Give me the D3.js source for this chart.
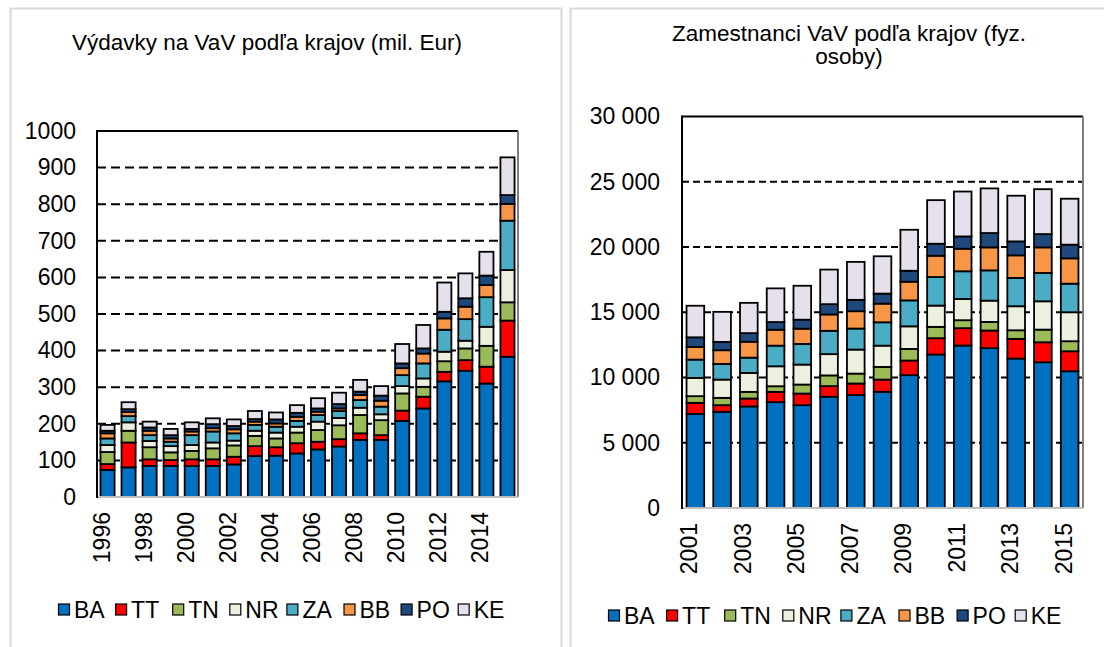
<!DOCTYPE html>
<meta charset="utf-8">
<style>

body {
  margin: 0;
  background: #fff;
}

text {
  font-family: "Liberation Sans", Arial, sans-serif;
  fill: #000;
}

</style>
<body>
<script src="https://cdn.jsdelivr.net/npm/d3@7"></script>
<script>

var regions = ["BA", "TT", "TN", "NR", "ZA", "BB", "PO", "KE"],
    regionColors = ["#0070C0", "#FF0000", "#9BBB59", "#EBF1DE", "#4BACC6", "#F79646", "#1F497D", "#E6E0EC"];

// výdavky (mil. Eur)
var yearsExp = [1996, 1997, 1998, 1999, 2000, 2001, 2002, 2003, 2004, 2005,
                2006, 2007, 2008, 2009, 2010, 2011, 2012, 2013, 2014, 2015];
var expTickYears = [1996, 1998, 2000, 2002, 2004, 2006, 2008, 2010, 2012, 2014];
var expBA = [74, 81, 85, 85, 85, 85, 89, 112, 113, 119, 130, 138, 156, 156, 208, 242, 316, 345, 310, 383],
    expTT = [16, 68, 18, 16, 18, 18, 21, 27, 23, 28, 21, 20, 18, 13, 28, 32, 26, 29, 46, 99],
    expTN = [33, 32, 33, 21, 23, 30, 31, 28, 24, 29, 32, 38, 50, 41, 47, 27, 29, 32, 57, 50],
    expNR = [19, 23, 17, 17, 16, 16, 13, 14, 16, 16, 23, 20, 20, 16, 20, 23, 26, 21, 52, 88],
    expZA = [18, 17, 16, 12, 27, 30, 20, 16, 16, 16, 18, 19, 21, 21, 30, 41, 60, 59, 81, 135],
    expBB = [14, 11, 12, 9, 10, 9, 11, 9, 9, 11, 9, 7, 14, 16, 19, 27, 31, 34, 33, 46],
    expPO = [7, 8, 9, 9, 7, 11, 9, 7, 11, 11, 9, 12, 9, 14, 13, 14, 18, 23, 26, 24],
    expKE = [16, 19, 16, 17, 18, 16, 18, 22, 19, 21, 28, 31, 32, 26, 53, 64, 80, 68, 65, 103];
var expTicks = [0, 100, 200, 300, 400, 500, 600, 700, 800, 900, 1000];

// zamestnanci (fyz. osoby)
var yearsEmp = [2001, 2002, 2003, 2004, 2005, 2006, 2007, 2008, 2009, 2010, 2011, 2012, 2013, 2014, 2015];
var empTickYears = [2001, 2003, 2005, 2007, 2009, 2011, 2013, 2015];
var empBA = [7220, 7370, 7780, 8110, 7880, 8520, 8650, 8900, 10180, 11760, 12450, 12250, 11450, 11170, 10480],
    empTT = [840, 510, 610, 790, 890, 820, 890, 940, 1120, 1250, 1330, 1350, 1510, 1530, 1530],
    empTN = [510, 560, 510, 430, 690, 820, 760, 970, 890, 870, 610, 660, 660, 970, 770],
    empNR = [1400, 1400, 1450, 1530, 1530, 1630, 1840, 1630, 1730, 1630, 1630, 1630, 1840, 2170, 2220],
    empZA = [1400, 1200, 1170, 1580, 1580, 1790, 1610, 1790, 1990, 2190, 2120, 2320, 2170, 2170, 2190],
    empBB = [970, 1050, 1220, 1220, 1170, 1250, 1330, 1430, 1430, 1630, 1730, 1760, 1730, 1960, 1940],
    empPO = [740, 640, 660, 590, 690, 790, 870, 770, 840, 920, 940, 1100, 1070, 1020, 1050],
    empKE = [2420, 2300, 2320, 2580, 2600, 2650, 2910, 2860, 3140, 3340, 3440, 3420, 3500, 3440, 3520];
var empTicks = [0, 5000, 10000, 15000, 20000, 25000, 30000];

var skFormat = d3.formatLocale({decimal: ",", thousands: " ", grouping: [3], currency: ["", ""]}).format(",");

var svg = d3.select("body").append("svg")
    .attr("width", 1104)
    .attr("height", 647);

// panel frames
svg.append("rect")
    .attr("x", 10.5).attr("y", 8.5).attr("width", 551).attr("height", 660)
    .style("fill", "none").style("stroke", "#d9d9d9").style("stroke-width", 2);
svg.append("rect")
    .attr("x", 570.5).attr("y", 8.5).attr("width", 560).attr("height", 660)
    .style("fill", "none").style("stroke", "#d9d9d9").style("stroke-width", 2);

function rows(years, cols) {
  return years.map(function(y, i) {
    var r = {year: y};
    regions.forEach(function(k, j) { r[k] = cols[j][i]; });
    return r;
  });
}

function drawChart(o) {
  var g = svg.append("g");

  var x = d3.scaleBand()
      .domain(o.years)
      .range([o.x0, o.x1])
      .paddingInner(o.pad)
      .paddingOuter(o.pad / 2);

  var y = d3.scaleLinear()
      .domain([0, o.max])
      .range([o.y1, o.y0]);

  // gridlines
  g.selectAll(".grid")
      .data(o.ticks.slice(1, -1))
    .enter().append("line")
      .attr("x1", o.x0).attr("x2", o.x1)
      .attr("y1", function(d) { return y(d); })
      .attr("y2", function(d) { return y(d); })
      .style("stroke", "#000")
      .style("stroke-width", o.gridW)
      .style("stroke-dasharray", o.dash);

  // y axis labels
  var ya = g.append("g")
      .attr("transform", "translate(" + o.x0 + ",0)")
      .call(d3.axisLeft(y).tickValues(o.ticks).tickSize(0).tickPadding(o.yPad).tickFormat(o.fmt));
  ya.select(".domain").remove();
  ya.attr("font-size", null).attr("font-family", null);
  ya.selectAll("text").style("font-size", "23px");

  // x axis labels, rotated through a wrapping group
  g.selectAll(".xlab")
      .data(o.tickYears)
    .enter().append("g")
      .attr("class", "xlab")
      .attr("transform", function(d) {
        return "translate(" + (x(d) + x.bandwidth() / 2 + 2) + "," + (o.y1 + o.labGap) + ") rotate(-90)";
      })
    .append("text")
      .attr("text-anchor", "end")
      .style("font-size", "23px")
      .text(function(d) { return d; });

  // stacked bars
  var stacked = d3.stack().keys(regions)(rows(o.years, o.cols));

  g.selectAll(".layer")
      .data(stacked)
    .enter().append("g")
      .style("fill", function(d, i) { return regionColors[i]; })
    .selectAll("rect")
      .data(function(d) { return d; })
    .enter().append("rect")
      .attr("x", function(d) { return x(d.data.year); })
      .attr("width", x.bandwidth())
      .attr("y", function(d) { return y(d[1]); })
      .attr("height", function(d) { return y(d[0]) - y(d[1]); })
      .style("stroke", "#000")
      .style("stroke-width", 1.8);

  // plot area border
  g.append("line").attr("x1", o.x0).attr("x2", o.x1).attr("y1", o.y0).attr("y2", o.y0)
      .style("stroke", "#000").style("stroke-width", 2);
  g.append("line").attr("x1", o.x1).attr("x2", o.x1).attr("y1", o.y0).attr("y2", o.y1)
      .style("stroke", "#7f7f7f").style("stroke-width", 2);
  g.append("line").attr("x1", o.x0).attr("x2", o.x1).attr("y1", o.y1).attr("y2", o.y1)
      .style("stroke", "#bfbfbf").style("stroke-width", 2);
  g.append("line").attr("x1", o.x0).attr("x2", o.x0).attr("y1", o.y0 - 1).attr("y2", o.y1 + 1)
      .style("stroke", "#000").style("stroke-width", 2);

  // title
  g.selectAll(".title")
      .data(o.title)
    .enter().append("text")
      .attr("x", o.titleX)
      .attr("y", function(d, i) { return o.titleY + i * 23; })
      .style("text-anchor", "middle")
      .style("font-size", "22.5px")
      .text(function(d) { return d; });

  // legend
  var lg = g.selectAll(".leg")
      .data(regions)
    .enter().append("g")
      .attr("transform", function(d, i) { return "translate(" + (o.legX + i * o.legStep) + "," + o.legY + ")"; });
  lg.append("rect")
      .attr("x", 0.5).attr("y", -5.5).attr("width", 11).attr("height", 11)
      .style("fill", function(d, i) { return regionColors[i]; })
      .style("stroke", "#000").style("stroke-width", 1.2);
  lg.append("text")
      .attr("x", 16).attr("dy", "0.36em")
      .style("font-size", "23px")
      .text(function(d) { return d; });
}

drawChart({
  years: yearsExp, tickYears: expTickYears,
  cols: [expBA, expTT, expTN, expNR, expZA, expBB, expPO, expKE],
  ticks: expTicks, max: 1000, fmt: d3.format("d"),
  x0: 97, x1: 518, y0: 131, y1: 497, pad: 0.33,
  yPad: 21, labGap: 15, gridW: 2, dash: "9,5",
  title: ["Výdavky na VaV podľa krajov (mil. Eur)"], titleX: 267, titleY: 50,
  legX: 58, legStep: 57.1, legY: 609.5
});

drawChart({
  years: yearsEmp, tickYears: empTickYears,
  cols: [empBA, empTT, empTN, empNR, empZA, empBB, empPO, empKE],
  ticks: empTicks, max: 30000, fmt: skFormat,
  x0: 682, x1: 1083, y0: 116.5, y1: 508, pad: 0.34,
  yPad: 22, labGap: 15, gridW: 1.8, dash: "7,4",
  title: ["Zamestnanci VaV podľa krajov (fyz.", "osoby)"], titleX: 849, titleY: 40.5,
  legX: 608, legStep: 58.1, legY: 615.5
});

</script>
